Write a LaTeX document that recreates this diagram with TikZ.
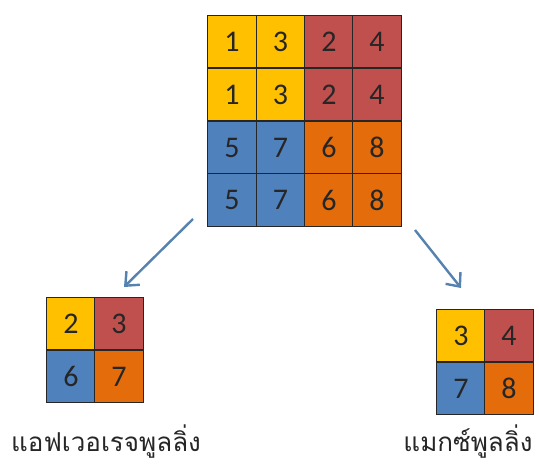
\documentclass[tikz,border=0pt]{standalone}
\usepackage{fontspec}
\setmainfont{Carlito}
\newfontfamily\thaifont[Script=Thai]{Loma}
\usetikzlibrary{arrows.meta}
\definecolor{cyel}{HTML}{FFC000}
\definecolor{cred}{HTML}{C0504D}
\definecolor{cblu}{HTML}{4F81BD}
\definecolor{cora}{HTML}{E46C0A}
\definecolor{arr}{HTML}{5582B0}
\definecolor{dig}{HTML}{262626}
\begin{document}
\begin{tikzpicture}[x=1pt,y=-1pt,
 cell/.style={draw=black!85, line width=0.8pt, minimum width=48.25pt, minimum height=52.75pt, inner sep=0pt, anchor=center, font=\fontsize{30}{32}\selectfont, text=dig},
 lbl/.style={font=\thaifont\fontsize{26}{30}\selectfont, text=dig},
 arrowln/.style={draw=arr, line width=2.4pt, -{Straight Barb[length=11pt,width=19pt]}}]
\useasboundingbox (0,0) rectangle (539,466);
% top grid
\node[cell, fill=cyel] (t11) at (232,41.5) {1};
\node[cell, fill=cyel] (t12) at (280.5,41.5) {3};
\node[cell, fill=cred] (t13) at (329,41.5) {2};
\node[cell, fill=cred] (t14) at (377,41.5) {4};
\node[cell, fill=cyel] (t21) at (232,94.5) {1};
\node[cell, fill=cyel] (t22) at (280.5,94.5) {3};
\node[cell, fill=cred] (t23) at (329,94.5) {2};
\node[cell, fill=cred] (t24) at (377,94.5) {4};
\node[cell, fill=cblu] (t31) at (232,147.5) {5};
\node[cell, fill=cblu] (t32) at (280.5,147.5) {7};
\node[cell, fill=cora] (t33) at (329,147.5) {6};
\node[cell, fill=cora] (t34) at (377,147.5) {8};
\node[cell, fill=cblu] (t41) at (232,200) {5};
\node[cell, fill=cblu] (t42) at (280.5,200) {7};
\node[cell, fill=cora] (t43) at (329,200) {6};
\node[cell, fill=cora] (t44) at (377,200) {8};
% average pooling grid
\node[cell, fill=cyel] (a11) at (71,323.5) {2};
\node[cell, fill=cred] (a12) at (119,323.5) {3};
\node[cell, fill=cblu] (a21) at (71,376.5) {6};
\node[cell, fill=cora] (a22) at (119,376.5) {7};
% max pooling grid
\node[cell, fill=cyel] (m11) at (461,335.5) {3};
\node[cell, fill=cred] (m12) at (509,335.5) {4};
\node[cell, fill=cblu] (m21) at (461,388.5) {7};
\node[cell, fill=cora] (m22) at (509,388.5) {8};
% labels
\node[lbl, anchor=base] (avg) at (106,451) {แอฟเวอเรจพูลลิ่ง};
\node[lbl, anchor=base east] (max) at (536,451) {แมกซ์พูลลิ่ง};
% arrows
\coordinate (l0) at (193,219);
\coordinate (l1) at (124,287);
\coordinate (r0) at (415,230);
\coordinate (r1) at (461,288);
\draw[arrowln] (l0) -- (l1);
\draw[arrowln] (r0) -- (r1);
\end{tikzpicture}
\end{document}
